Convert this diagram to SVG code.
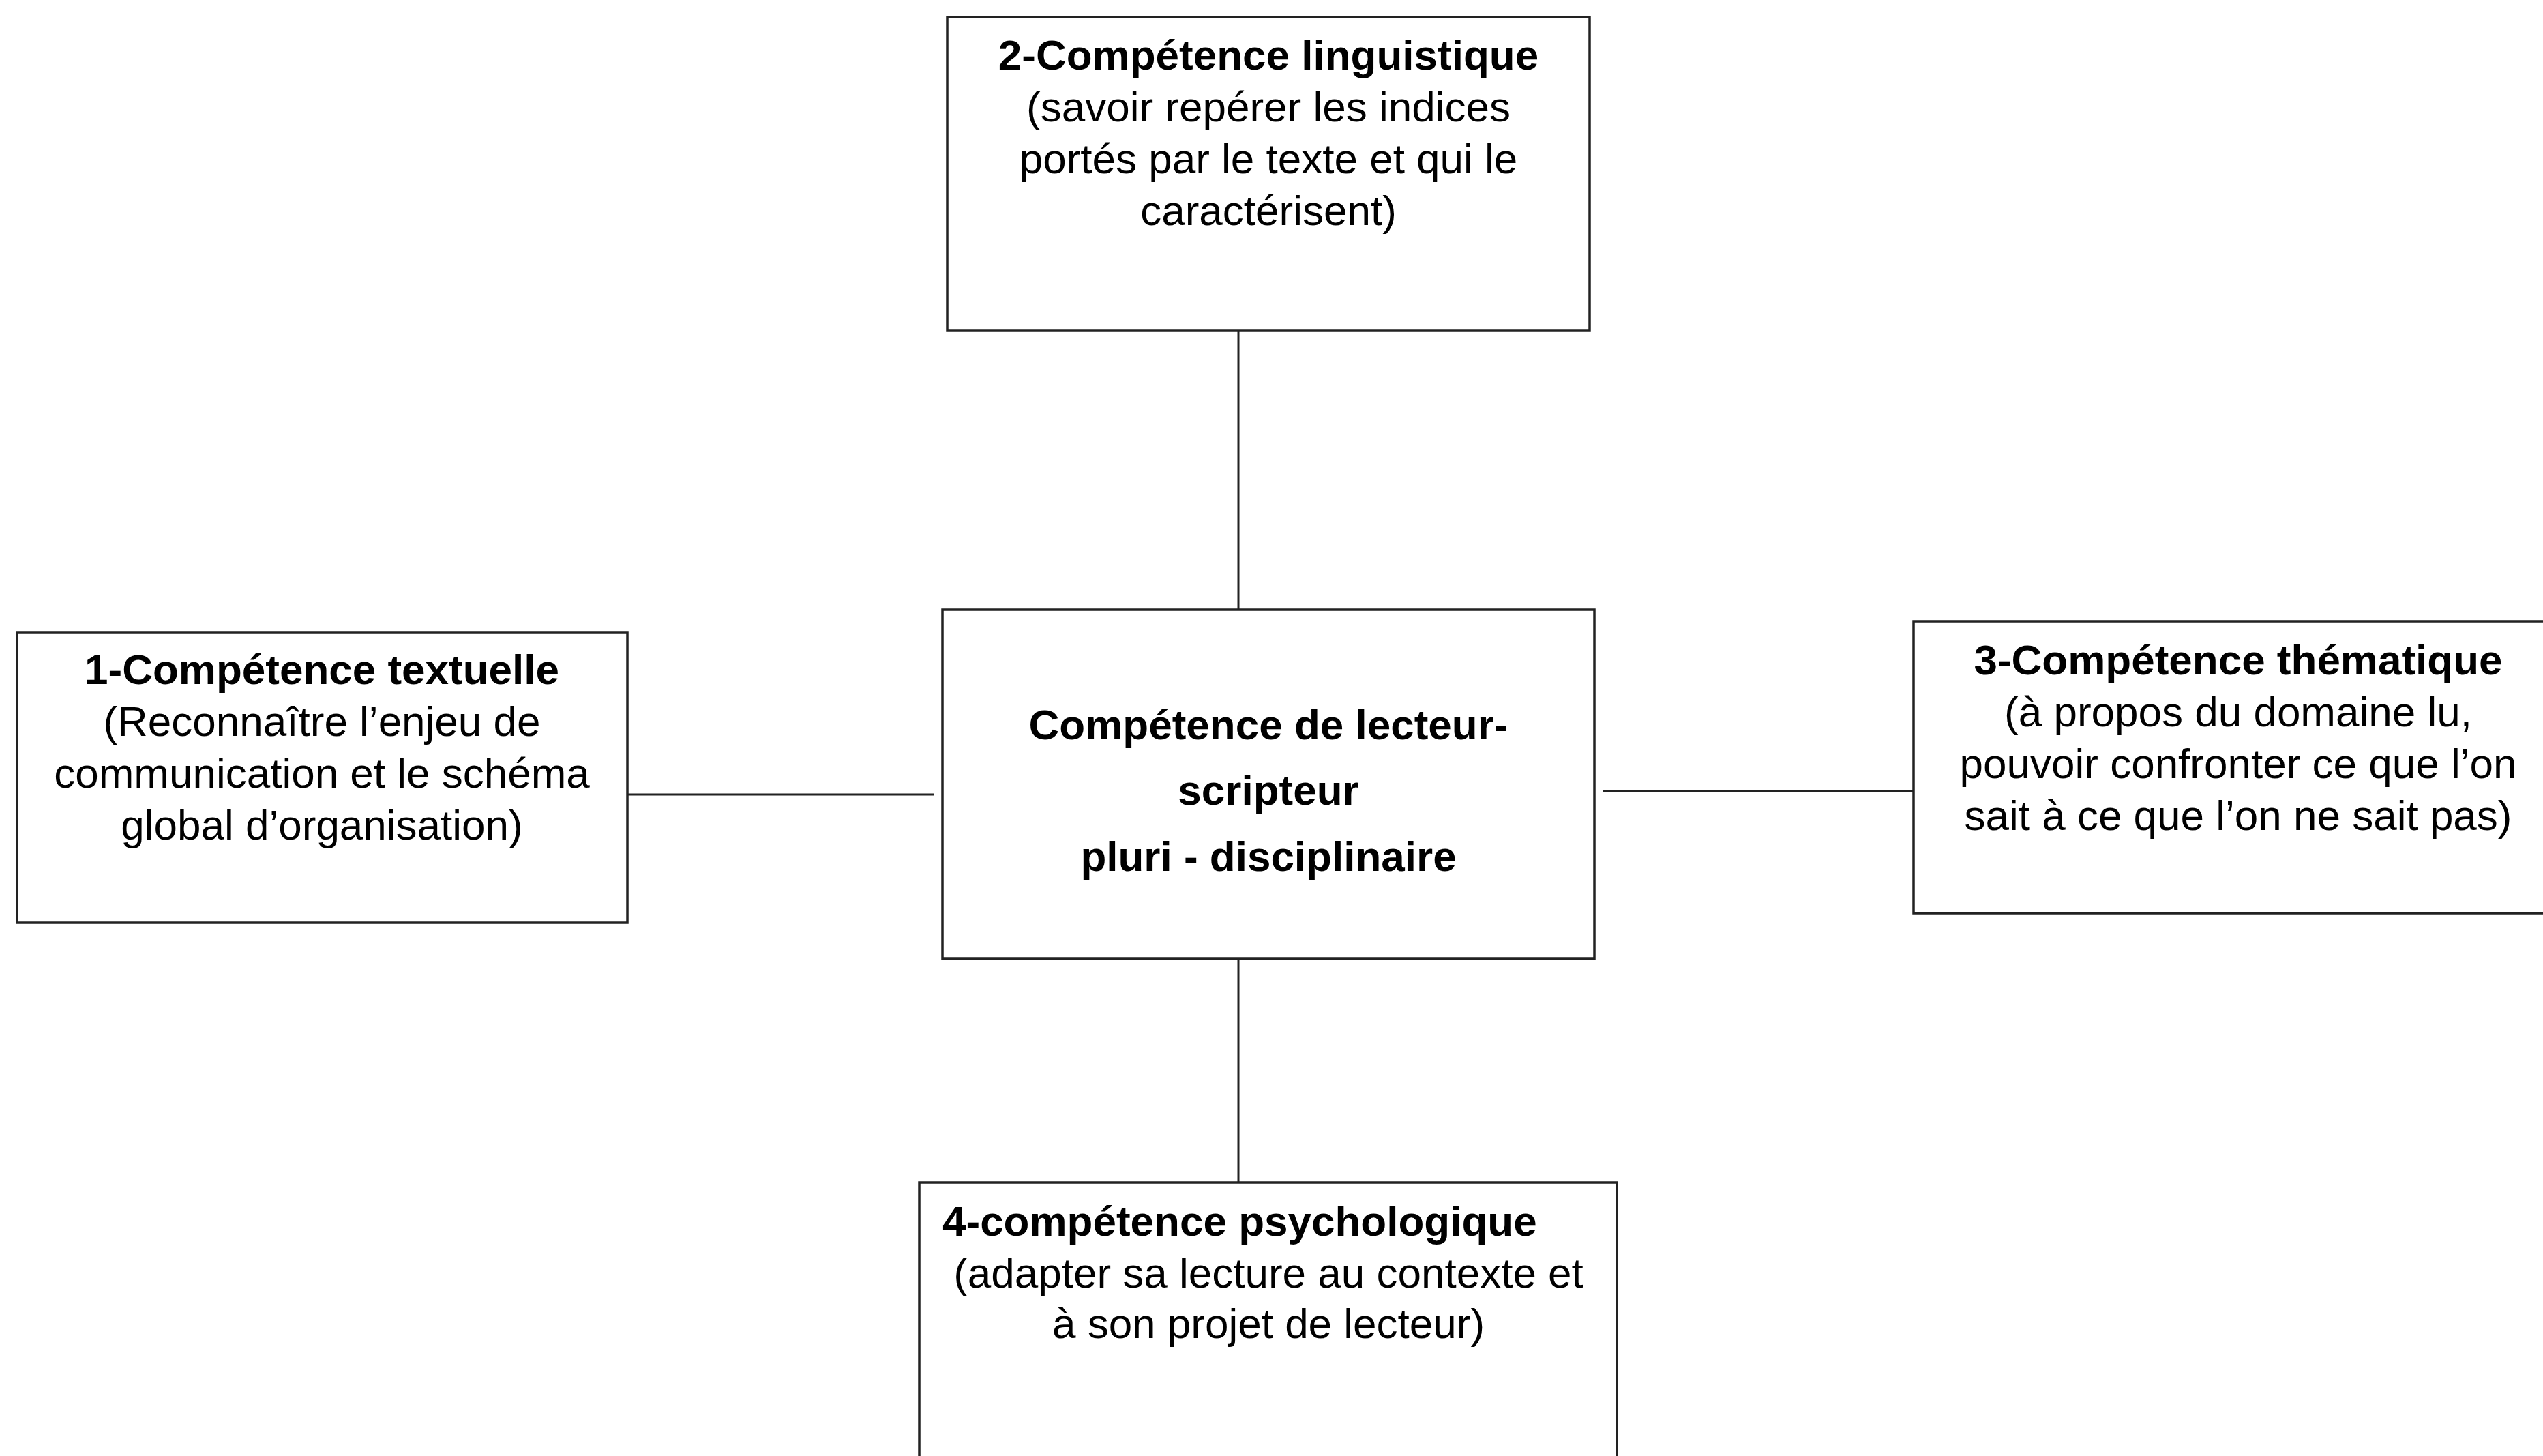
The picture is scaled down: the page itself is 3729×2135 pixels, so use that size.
<svg xmlns="http://www.w3.org/2000/svg" width="3729" height="2135" viewBox="0 0 3729 2135">
<style>
.box{fill:#fff;stroke:#222;stroke-width:3.5}
.ln{stroke:#222;stroke-width:3;fill:none}
text{font-family:"Liberation Sans",Arial,sans-serif;font-size:62px;fill:#000;text-anchor:middle}
.b{font-weight:bold}
</style>
<rect width="3729" height="2135" fill="#fff"/>
<g id="connectors">
<line class="ln" x1="1816" y1="485" x2="1816" y2="894"/>
<line class="ln" x1="920" y1="1165" x2="1370" y2="1165"/>
<line class="ln" x1="2350" y1="1160" x2="2813" y2="1160"/>
<line class="ln" x1="1816" y1="1406" x2="1816" y2="1734"/>
</g>
<g id="node2">
<rect class="box" x="1389" y="25" width="942" height="460"/>
<text class="b" x="1860" y="102">2-Compétence linguistique</text>
<text x="1860" y="178">(savoir repérer les indices</text>
<text x="1860" y="254">portés par le texte et qui le</text>
<text x="1860" y="330">caractérisent)</text>
</g>
<g id="node1">
<rect class="box" x="25" y="927" width="895" height="426"/>
<text class="b" x="472" y="1003">1-Compétence textuelle</text>
<text x="472" y="1079">(Reconnaître l’enjeu de</text>
<text x="472" y="1155">communication et le schéma</text>
<text x="472" y="1231">global d’organisation)</text>
</g>
<g id="node-center">
<rect class="box" x="1382" y="894" width="956" height="512"/>
<text class="b" x="1860" y="1084">Compétence de lecteur-</text>
<text class="b" x="1860" y="1180">scripteur</text>
<text class="b" x="1860" y="1277">pluri - disciplinaire</text>
</g>
<g id="node3">
<rect class="box" x="2806" y="911" width="940" height="428"/>
<text class="b" x="3282" y="989">3-Compétence thématique</text>
<text x="3282" y="1065">(à propos du domaine lu,</text>
<text x="3282" y="1141">pouvoir confronter ce que l’on</text>
<text x="3282" y="1217">sait à ce que l’on ne sait pas)</text>
</g>
<g id="node4">
<rect class="box" x="1348" y="1734" width="1023" height="440"/>
<text class="b" x="1382" y="1812" style="text-anchor:start">4-compétence psychologique</text>
<text x="1860" y="1888">(adapter sa lecture au contexte et</text>
<text x="1860" y="1962">à son projet de lecteur)</text>
</g>
</svg>
